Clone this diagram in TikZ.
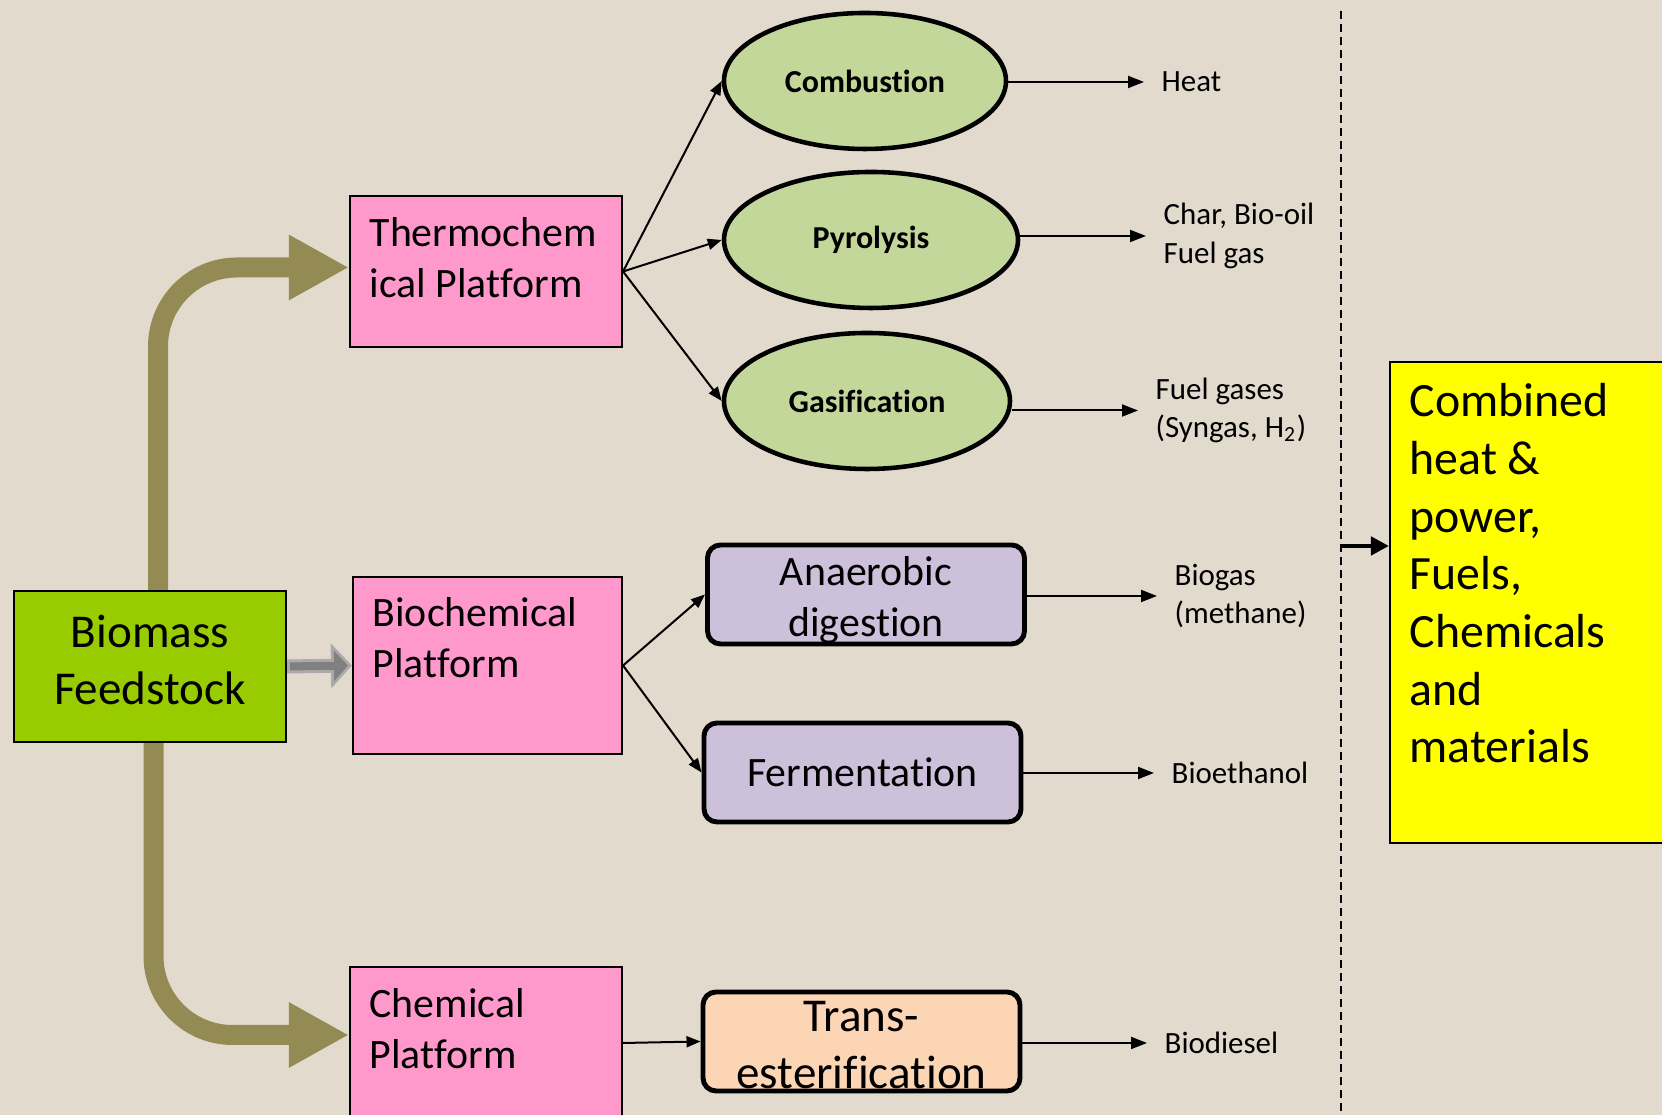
\documentclass[tikz,border=0pt]{standalone}
\usepackage{fontspec}
\setmainfont{Carlito}[Ligatures=CommonOff]
\definecolor{bgbeige}{RGB}{226,218,204}
\definecolor{bmgreen}{RGB}{153,204,0}
\definecolor{bmpink}{RGB}{255,153,204}
\definecolor{bmleaf}{RGB}{196,215,155}
\definecolor{bmlilac}{RGB}{204,192,218}
\definecolor{bmpeach}{RGB}{252,213,180}
\definecolor{bmyellow}{RGB}{255,255,0}
\definecolor{bmolive}{RGB}{148,139,84}
\definecolor{bmgraydark}{RGB}{128,128,128}
\definecolor{bmgraylight}{RGB}{170,170,170}
\usetikzlibrary{arrows.meta,positioning,shapes.geometric}

\begin{document}
\begin{tikzpicture}[
  platform/.style={draw=black, line width=0.6pt, fill=bmpink, minimum width=2.72cm, inner sep=0pt},
  boxtext/.style={anchor=north west, align=left, inner sep=0pt, font=\fontsize{11.9}{14.5}\selectfont},
  process/.style={ellipse, draw=black, line width=1.3pt, fill=bmleaf, minimum width=2.82cm, minimum height=1.36cm, inner sep=0pt, font=\fontsize{9.1}{11}\selectfont\bfseries},
  stage/.style={draw=black, line width=1.4pt, rounded corners=0.13cm, minimum width=3.17cm, minimum height=0.99cm, inner sep=0pt, align=center, font=\fontsize{11.9}{14.5}\selectfont},
  outtext/.style={anchor=west, align=left, inner sep=0pt, font=\fontsize{8.8}{10.9}\selectfont},
  branch/.style={line width=0.57pt, -{Triangle[length=0.14cm, width=0.11cm]}},
  outarrow/.style={line width=0.57pt, shorten >=0.17cm, -{Triangle[length=0.16cm, width=0.12cm]}},
  feed/.style={draw=bmolive, line width=0.20cm, rounded corners=0.79cm, -{Triangle[length=0.60cm, width=0.61cm]}}
]
  \fill[bgbeige] (0,0) rectangle (16.62,11.15);
  \useasboundingbox (0,0) rectangle (16.62,11.15);

  % feedstock and platforms
  \node[draw=black, line width=0.6pt, fill=bmgreen, minimum width=2.72cm, minimum height=1.51cm, inner sep=0pt, align=center, font=\fontsize{13.4}{16.2}\selectfont] (bio) at (1.50,4.485) {Biomass\\Feedstock\rule[-0.13cm]{0pt}{0pt}};

  \node[platform, minimum height=1.51cm] (thermo) at (4.86,8.435) {};
  \node[boxtext] (thermotxt) at ([shift={(0.2,-0.22)}]thermo.north west) {Thermochem\\ical Platform};
  \node[platform, minimum width=2.69cm, minimum height=1.77cm] (bioch) at (4.875,4.495) {};
  \node[boxtext] (biochtxt) at ([shift={(0.2,-0.21)}]bioch.north west) {Biochemical\\Platform};
  \node[platform, minimum height=1.52cm] (chem) at (4.86,0.72) {};
  \node[boxtext] (chemtxt) at ([shift={(0.2,-0.22)}]chem.north west) {Chemical\\Platform};

  % conversion routes
  \node[process] (comb) at (8.65,10.34) {Combustion};
  \node[process, minimum width=2.94cm] (pyro) at (8.71,8.75) {Pyrolysis};
  \node[process, minimum width=2.86cm] (gasi) at (8.67,7.14) {Gasification};
  \node[stage, fill=bmlilac] (anaer) at (8.66,5.205) {\rule{0pt}{0.40cm}Anaerobic\\digestion};
  \node[stage, fill=bmlilac] (ferm) at (8.625,3.425) {Fermentation};
  \node[stage, fill=bmpeach, font=\fontsize{13.4}{16.3}\selectfont] (trans) at (8.615,0.735) {\rule{0pt}{0.38cm}Trans-\\esterification};

  % products
  \node[outtext] (heat) at (11.61,10.33) {Heat};
  \node[outtext] (char) at (11.63,8.79) {Char, Bio-oil\\Fuel gas};
  \node[outtext] (fuel) at (11.55,7.045) {Fuel gases\\(Syngas, H\textsubscript{2})};
  \node[outtext] (biogas) at (11.74,5.19) {Biogas\\(methane)};
  \node[outtext] (bioeth) at (11.71,3.42) {Bioethanol};
  \node[outtext] (biodsl) at (11.64,0.72) {Biodiesel};

  % end uses
  \node[draw=black, line width=0.6pt, fill=bmyellow, minimum width=2.80cm, minimum height=4.81cm, inner sep=0pt] (chp) at (15.30,5.125) {};
  \node[boxtext, font=\fontsize{13.6}{16.4}\selectfont] (chptxt) at ([shift={(0.2,-0.22)}]chp.north west) {Combined\\heat \&\\power,\\Fuels,\\Chemicals\\and\\materials};

  \coordinate (divtop) at (13.41,11.04);
  \coordinate (divbot) at (13.41,0);
  \coordinate (cut) at (13.41,5.69);
  \draw[line width=0.45pt, dash pattern=on 0.08cm off 0.05cm] (divtop) -- (divbot);

  % connectors
  \draw[feed] ([xshift=0.08cm]bio.north) |- ([yshift=0.04cm]thermo.west);
  \draw[feed] ([xshift=0.035cm]bio.south) |- ([yshift=0.08cm]chem.west);
  \draw[bmgraylight, line width=0.14cm, -{Triangle[length=0.21cm, width=0.44cm]}] (bio.east) -- (bioch.west);
  \draw[bmgraydark, line width=0.08cm, shorten <=0.03cm, shorten >=0.04cm, -{Triangle[length=0.14cm, width=0.30cm]}] (bio.east) -- (bioch.west);

  \foreach \t in {comb,pyro,gasi}
    \draw[branch] (thermo.east) -- (\t.west);
  \foreach \t in {anaer,ferm}
    \draw[branch] (bioch.east) -- (\t.west);
  \draw[branch] (chem.east) -- (trans.west);

  \foreach \a/\b in {comb/heat,pyro/char,gasi/fuel,anaer/biogas,ferm/bioeth,trans/biodsl}
    \draw[outarrow] (\a.east |- \b.west) -- (\b.west);

  \draw[line width=1.4pt, -{Triangle[length=0.18cm, width=0.18cm]}] (cut) -- (cut -| chp.west);
\end{tikzpicture}
\end{document}
